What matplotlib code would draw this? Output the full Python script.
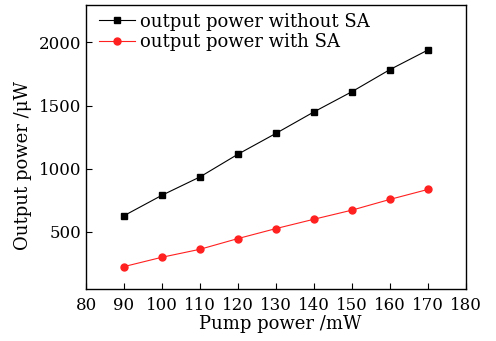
import numpy as np
from matplotlib import pyplot as plt

pump = [90, 100, 110, 120, 130, 140, 150, 160, 170]
power_without_sa = [628, 790, 935, 1115, 1280, 1450, 1610, 1785, 1940]
power_with_sa = [225, 299, 362, 447, 526, 600, 672, 757, 836]

plt.rcParams["font.family"] = "DejaVu Serif"
plt.rcParams["mathtext.fontset"] = "dejavuserif"

fig = plt.figure(figsize=(4.96, 3.41), dpi=100)
ax = fig.add_axes([0.1734, 0.1534, 0.9395 - 0.1734, 0.9868 - 0.1534])

ax.plot(pump, power_without_sa, color="black", lw=0.8, marker="s", ms=5,
        label="output power without SA")
ax.plot(pump, power_with_sa, color="#ff2020", lw=0.8, marker="o", ms=5,
        label="output power with SA")

ax.set_xlim(80, 180)
ax.set_ylim(50, 2300)
ax.set_xticks(np.arange(80, 181, 10))
ax.set_yticks([500, 1000, 1500, 2000])
ax.tick_params(direction="in", labelsize=12, length=4, width=0.8)
ax.tick_params(axis="x", pad=6)
for s in ax.spines.values():
    s.set_linewidth(1.0)

ax.set_xlabel("Pump power /mW", fontsize=13)
ax.set_ylabel("Output power /\u03bcW", fontsize=13)
ax.xaxis.set_label_coords(0.51, -0.093)
ax.yaxis.set_label_coords(-0.142, 0.435)

ax.legend(loc="upper left", frameon=False, fontsize=13, handlelength=2.0,
          handletextpad=0.3, borderaxespad=0.0, labelspacing=0.15,
          bbox_to_anchor=(0.015, 0.997))

fig.savefig("out.png", dpi=100)
